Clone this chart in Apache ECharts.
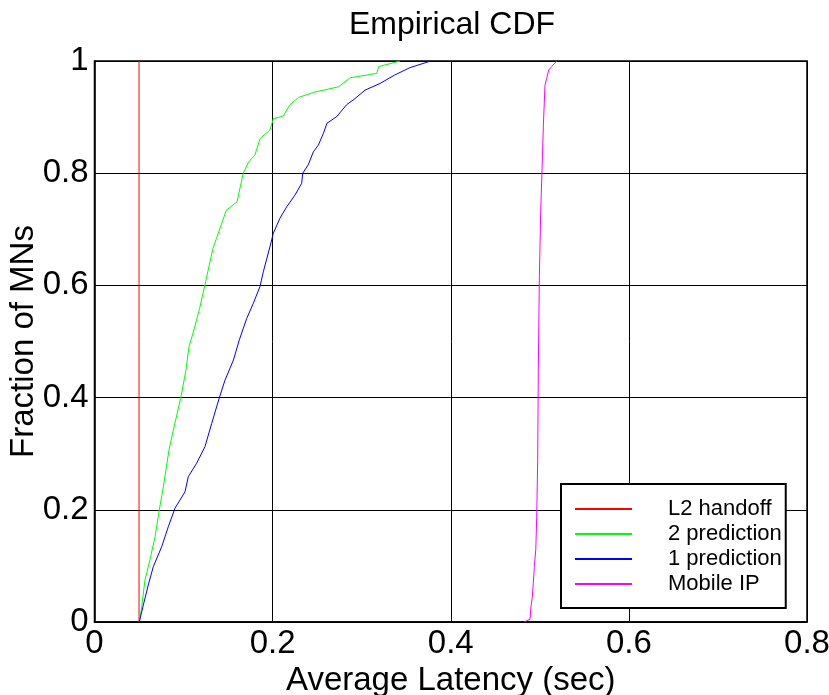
<!DOCTYPE html>
<html>
<head>
<meta charset="utf-8">
<script src="https://cdn.jsdelivr.net/npm/echarts@6/dist/echarts.min.js"></script>
<style>
  html, body { margin: 0; padding: 0; background: #fff; }
  #chart { width: 829px; height: 695px; }
</style>
</head>
<body>
<div id="chart"></div>
<script>
// values: [latency (sec), fraction of MNs]
var l2Handoff = [[0.05, 0], [0.05, 1]]

var twoPrediction = [
  [0.0503, 0], [0.053, 0.027], [0.0567, 0.075], [0.0623, 0.111], [0.068, 0.152],
  [0.0728, 0.2], [0.0773, 0.241], [0.0837, 0.307], [0.0885, 0.342], [0.0968, 0.399],
  [0.1027, 0.449], [0.106, 0.49], [0.111, 0.517], [0.118, 0.559], [0.124, 0.601],
  [0.133, 0.666], [0.137, 0.684], [0.148, 0.734], [0.16, 0.749], [0.167, 0.8],
  [0.173, 0.82], [0.18, 0.832], [0.186, 0.862], [0.197, 0.877], [0.2008, 0.897],
  [0.212, 0.902], [0.2195, 0.922], [0.229, 0.935], [0.246, 0.944], [0.274, 0.954],
  [0.287, 0.97], [0.317, 0.978], [0.319, 0.99], [0.343, 1.0]
]

var onePrediction = [
  [0.0503, 0], [0.0548, 0.03], [0.0604, 0.066], [0.066, 0.0986], [0.0754, 0.134],
  [0.0829, 0.17], [0.0904, 0.203], [0.1016, 0.232], [0.1053, 0.259], [0.1147, 0.283],
  [0.124, 0.3125], [0.1316, 0.354], [0.14, 0.399], [0.1465, 0.431], [0.156, 0.467],
  [0.1626, 0.503], [0.1709, 0.541], [0.1783, 0.568], [0.1858, 0.598], [0.1895, 0.624],
  [0.197, 0.669], [0.2008, 0.693], [0.2083, 0.72], [0.2158, 0.74], [0.2251, 0.761],
  [0.2326, 0.782], [0.2338, 0.8], [0.24, 0.815], [0.2457, 0.838], [0.2513, 0.85],
  [0.257, 0.871], [0.261, 0.889], [0.272, 0.901], [0.283, 0.922], [0.2925, 0.933],
  [0.3037, 0.948], [0.3206, 0.96], [0.337, 0.975], [0.354, 0.988], [0.3775, 1.0]
]

var mobileIP = [
  [0.4823, 0], [0.489, 0.005], [0.49, 0.027], [0.4916, 0.045], [0.4927, 0.069],
  [0.4939, 0.099], [0.4955, 0.13], [0.4965, 0.186], [0.4976, 0.288], [0.4983, 0.447],
  [0.4995, 0.616], [0.501, 0.732], [0.503, 0.832], [0.504, 0.886], [0.505, 0.925],
  [0.5058, 0.957], [0.5077, 0.969], [0.51, 0.984], [0.5133, 0.99], [0.519, 1.0]
]

var seriesNames = ['L2 handoff', '2 prediction', '1 prediction', 'Mobile IP']
var seriesColors = ['#ff0000', '#00ff00', '#0000ff', '#ff00ff']
var seriesData = [l2Handoff, twoPrediction, onePrediction, mobileIP]

var font = 'Liberation Sans, Arial, Helvetica, sans-serif'

var chart = echarts.init(document.getElementById('chart'))
chart.setOption({
  animation: false,
  backgroundColor: '#fff',
  title: {
    text: 'Empirical CDF',
    left: 447,
    textAlign: 'center',
    top: 4,
    textStyle: { fontFamily: font, fontSize: 32, fontWeight: 'normal', color: '#000' }
  },
  grid: {
    left: 94.5,
    right: 22,
    top: 61,
    bottom: 73,
    outerBoundsMode: 'none',
    containLabel: false,
    show: true,
    borderColor: '#000',
    borderWidth: 1.5,
    backgroundColor: '#fff'
  },
  legend: {
    orient: 'vertical',
    left: 561,
    top: 484,
    padding: [13, 4, 12, 14],
    itemGap: 1,
    itemWidth: 57,
    itemHeight: 2,
    icon: 'rect',
    backgroundColor: '#fff',
    borderColor: '#000',
    borderWidth: 2,
    borderRadius: 0,
    textStyle: {
      fontFamily: font,
      fontSize: 22,
      color: '#000',
      lineHeight: 24,
      padding: [0, 0, 0, 31]
    },
    data: seriesNames
  },
  xAxis: {
    type: 'value',
    min: 0,
    max: 0.8,
    interval: 0.2,
    name: 'Average Latency (sec)',
    nameLocation: 'middle',
    nameGap: 42,
    nameMoveOverlap: false,
    nameTextStyle: { fontFamily: font, fontSize: 33, color: '#000' },
    axisLine: { show: true, lineStyle: { color: '#000', width: 1.5 } },
    axisTick: { show: true, inside: true, length: 6, lineStyle: { color: '#000' } },
    axisLabel: { fontFamily: font, fontSize: 33, color: '#000', margin: 5 },
    splitLine: { show: true, lineStyle: { color: '#000', width: 1 } }
  },
  yAxis: {
    type: 'value',
    min: 0,
    max: 1,
    interval: 0.2,
    name: 'Fraction of MNs',
    nameLocation: 'middle',
    nameGap: 54,
    nameMoveOverlap: false,
    nameTextStyle: { fontFamily: font, fontSize: 33, color: '#000' },
    axisLine: { show: true, lineStyle: { color: '#000', width: 1.5 } },
    axisTick: { show: true, inside: true, length: 6, lineStyle: { color: '#000' } },
    axisLabel: { fontFamily: font, fontSize: 33, color: '#000', margin: 6 },
    splitLine: { show: true, lineStyle: { color: '#000', width: 1 } }
  },
  series: seriesData.map(function(d, i) {
    return {
      name: seriesNames[i],
      type: 'line',
      data: d,
      symbol: 'none',
      color: seriesColors[i],
      lineStyle: { color: seriesColors[i], width: 1 },
      z: 5
    }
  })
})
</script>
</body>
</html>
